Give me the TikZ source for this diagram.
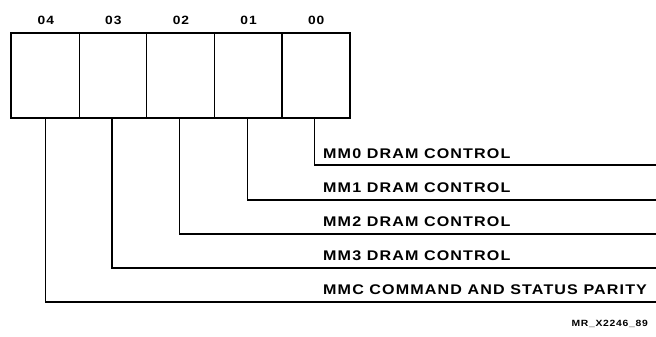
\documentclass[tikz,border=0pt]{standalone}
\usepackage{fontspec}
\setmainfont{Liberation Sans}
\newfontfamily\widefont[FakeStretch=1.15,LetterSpace=8]{Liberation Sans}
\begin{document}
\begin{tikzpicture}[x=1pt,y=-1pt,
  cell/.style={draw,line width=1.2pt,minimum width=67.6pt,minimum height=84pt,inner sep=0pt,anchor=north west},
  bitnum/.style={font=\widefont\bfseries\fontsize{12}{12}\selectfont,anchor=center},
  lbl/.style={font=\widefont\bfseries\fontsize{14}{14}\selectfont,anchor=base west,inner sep=0pt},
  wire/.style={line width=1.1pt}]
\useasboundingbox (0,0) rectangle (656,337);
\foreach \i/\n in {0/04,1/03,2/02,3/01,4/00}{
  \node[cell] (c\n) at ({11+67.6*\i},33) {};
  \node[bitnum] (b\n) at ({45.8+67.6*\i},20) {\n};
}
\draw[line width=1.6pt] (c04.north west) rectangle (c00.south east);
% label lines
\coordinate (e00) at (656,165);
\coordinate (e01) at (656,200);
\coordinate (e02) at (656,234);
\coordinate (e03) at (656,268);
\coordinate (e04) at (656,302);
\draw[wire] ([xshift=-1pt]c00.south) |- (e00);
\draw[wire] ([xshift=-1pt]c01.south) |- (e01);
\draw[wire] ([xshift=-1pt]c02.south) |- (e02);
\draw[wire] ([xshift=-1pt]c03.south) |- (e03);
\draw[wire] ([xshift=0pt]c04.south) |- (e04);
\node[lbl] (t0) at (323,158) {MM0 DRAM CONTROL};
\node[lbl] (t1) at (323,192) {MM1 DRAM CONTROL};
\node[lbl] (t2) at (323,226) {MM2 DRAM CONTROL};
\node[lbl] (t3) at (323,260) {MM3 DRAM CONTROL};
\node[lbl] (t4) at (323,294) {MMC COMMAND AND STATUS PARITY};
\node[font=\widefont\bfseries\fontsize{9}{9}\selectfont,anchor=east,inner sep=0pt] (mr) at (648,324) {MR\_X2246\_89};
\end{tikzpicture}
\end{document}
